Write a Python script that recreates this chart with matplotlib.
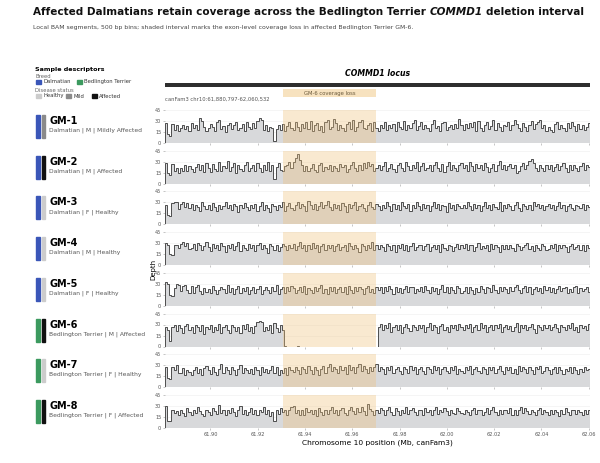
import matplotlib
matplotlib.use("Agg")
import matplotlib.pyplot as plt
from matplotlib.patches import Rectangle
import numpy as np

plt.rcParams["font.family"] = "DejaVu Sans"

# region and deletion interval (Mb, canFam3)
region_start = 61.880797
region_end = 62.060532
loss_start = 61.9307
loss_end = 61.9700
xticks = [61.90, 61.92, 61.94, 61.96, 61.98, 62.00, 62.02, 62.04, 62.06]
yticks = [0, 15, 30, 45]

samples = ["GM-1", "GM-2", "GM-3", "GM-4", "GM-5", "GM-6", "GM-7", "GM-8"]
breeds = ["Dalmatian"] * 5 + ["Bedlington Terrier"] * 3
sexes = ["M", "M", "F", "M", "F", "M", "F", "F"]
status = ["Mildly Affected", "Affected", "Healthy", "Healthy", "Healthy",
          "Affected", "Healthy", "Affected"]

# depth per bin
gm1 = [27, 12, 10, 26, 18, 24, 17, 21, 25, 19, 23, 16, 27, 21, 25, 18, 34, 30, 22, 17,
       20, 26, 22, 17, 28, 31, 19, 23, 15, 24, 27, 19, 25, 29, 18, 21, 26, 17, 28, 22,
       19, 27, 20, 30, 34, 31, 18, 25, 16, 22, 20, 3, 19, 24, 18, 26, 17, 23, 29, 21,
       18, 28, 22, 16, 26, 20, 29, 19, 30, 17, 24, 27, 18, 23, 15, 28, 31, 19, 22, 33,
       27, 18, 25, 20, 16, 26, 29, 19, 31, 17, 22, 28, 32, 21, 19, 24, 27, 16, 29, 20,
       17, 25, 21, 28, 18, 24, 20, 26, 16, 29, 22, 19, 30, 18, 25, 21, 27, 31, 18, 23,
       28, 19, 24, 21, 16, 26, 31, 20, 23, 17, 27, 29, 18, 22, 25, 19, 26, 20, 33, 24,
       18, 26, 20, 27, 22, 29, 17, 30, 21, 16, 25, 28, 19, 23, 31, 18, 27, 22, 16, 25,
       23, 29, 18, 24, 31, 26, 20, 17, 27, 22, 16, 25, 30, 19, 26, 28, 32, 21, 24, 17,
       22, 18, 15, 26, 28, 19, 25, 21, 17, 27, 20, 29, 23, 16, 26, 19, 24, 18, 22, 27]
gm2 = [28, 14, 12, 27, 17, 22, 15, 21, 18, 25, 17, 24, 20, 16, 23, 27, 19, 25, 16, 28,
       22, 16, 27, 20, 18, 29, 17, 24, 21, 31, 18, 23, 28, 15, 25, 20, 17, 26, 30, 18,
       21, 25, 17, 28, 22, 16, 26, 19, 29, 18, 25, 6, 23, 28, 19, 17, 24, 26, 29, 22,
       30, 35, 40, 33, 25, 18, 24, 17, 22, 27, 19, 16, 25, 28, 18, 23, 20, 26, 17, 24,
       21, 17, 27, 23, 25, 16, 20, 26, 30, 22, 17, 25, 19, 28, 21, 29, 24, 27, 18, 22,
       26, 19, 24, 29, 17, 22, 27, 20, 16, 25, 28, 21, 18, 29, 24, 19, 26, 22, 30, 17,
       24, 28, 19, 22, 26, 17, 25, 30, 21, 18, 27, 16, 24, 29, 19, 26, 22, 17, 25, 28,
       21, 26, 18, 29, 24, 17, 27, 22, 25, 19, 28, 23, 16, 22, 27, 18, 25, 31, 20, 26,
       19, 24, 27, 21, 25, 15, 18, 24, 28, 20, 26, 31, 34, 28, 22, 18, 26, 21, 17, 25,
       20, 25, 17, 23, 27, 19, 24, 28, 21, 16, 25, 19, 26, 22, 17, 24, 28, 19, 25, 23]
gm3 = [27, 13, 12, 29, 31, 30, 21, 28, 31, 24, 29, 22, 28, 19, 27, 24, 18, 30, 25, 21,
       26, 20, 29, 24, 18, 27, 21, 25, 30, 22, 26, 19, 28, 25, 17, 27, 23, 29, 24, 19,
       27, 22, 28, 18, 25, 31, 20, 27, 23, 17, 28, 25, 19, 27, 24, 30, 18, 25, 29, 22,
       20, 27, 30, 23, 28, 25, 18, 32, 26, 21, 28, 19, 25, 30, 22, 27, 32, 24, 19, 28,
       23, 27, 19, 29, 25, 17, 28, 22, 26, 31, 20, 25, 28, 22, 18, 27, 30, 24, 21, 28,
       25, 19, 27, 22, 30, 25, 18, 28, 21, 27, 20, 31, 25, 22, 28, 18, 27, 23, 30, 25,
       20, 28, 23, 27, 18, 25, 30, 22, 28, 19, 27, 25, 17, 29, 23, 27, 20, 28, 25, 22,
       27, 22, 30, 25, 19, 28, 23, 27, 18, 25, 31, 22, 27, 20, 28, 24, 21, 30, 18, 27,
       23, 28, 25, 19, 27, 30, 22, 18, 28, 25, 21, 27, 20, 31, 25, 28, 22, 27, 19, 25,
       28, 22, 27, 19, 25, 30, 23, 27, 18, 25, 28, 22, 20, 27, 25, 22, 28, 19, 27, 24]
gm4 = [30, 27, 15, 14, 27, 28, 24, 29, 32, 26, 30, 22, 24, 29, 21, 30, 27, 20, 26, 31,
       25, 19, 29, 24, 28, 21, 30, 26, 18, 28, 23, 29, 20, 26, 31, 19, 28, 24, 21, 29,
       23, 28, 19, 27, 30, 22, 28, 24, 17, 29, 26, 21, 28, 19, 25, 29, 26, 20, 28, 24,
       29, 21, 26, 32, 23, 28, 19, 27, 22, 30, 24, 28, 18, 26, 29, 21, 27, 23, 28, 19,
       26, 29, 21, 25, 28, 19, 30, 26, 22, 28, 24, 18, 29, 26, 21, 28, 23, 31, 20, 27,
       22, 28, 25, 19, 29, 26, 21, 28, 18, 27, 24, 29, 20, 28, 19, 26, 30, 21, 25, 28,
       28, 21, 26, 29, 19, 25, 28, 22, 27, 18, 29, 24, 21, 28, 26, 19, 25, 29, 22, 27,
       24, 29, 21, 27, 28, 19, 25, 30, 22, 26, 24, 28, 19, 29, 22, 27, 25, 18, 28, 22,
       27, 22, 28, 24, 19, 29, 26, 21, 25, 28, 30, 22, 26, 19, 28, 24, 21, 29, 26, 20,
       22, 28, 24, 29, 19, 27, 23, 28, 25, 18, 26, 29, 22, 25, 28, 21, 27, 19, 28, 24]
gm5 = [33, 30, 15, 14, 24, 30, 29, 20, 27, 28, 22, 18, 27, 17, 25, 29, 20, 16, 24, 19,
       23, 17, 27, 22, 16, 21, 26, 23, 18, 28, 19, 24, 16, 23, 27, 17, 24, 20, 26, 16,
       21, 25, 17, 23, 27, 16, 21, 26, 22, 17, 25, 20, 28, 16, 23, 26, 18, 25, 20, 27,
       24, 17, 22, 26, 19, 27, 16, 24, 22, 18, 26, 20, 24, 28, 17, 23, 16, 26, 20, 25,
       18, 23, 26, 19, 25, 16, 27, 22, 18, 25, 20, 26, 23, 16, 24, 27, 19, 23, 17, 26,
       22, 26, 17, 25, 20, 27, 23, 16, 26, 19, 24, 17, 23, 27, 19, 25, 26, 17, 23, 20,
       25, 19, 27, 22, 17, 26, 20, 24, 16, 23, 28, 19, 25, 17, 26, 22, 18, 27, 24, 17,
       20, 25, 17, 26, 22, 16, 24, 19, 27, 23, 17, 26, 24, 19, 28, 22, 17, 25, 20, 26,
       23, 17, 25, 20, 26, 28, 22, 17, 24, 27, 19, 25, 16, 23, 26, 20, 24, 17, 27, 22,
       26, 19, 24, 17, 23, 27, 20, 24, 26, 17, 23, 19, 25, 27, 17, 24, 20, 23, 26, 19]
gm6 = [27, 22, 8, 26, 30, 21, 29, 25, 19, 28, 31, 23, 27, 18, 30, 26, 21, 29, 17, 27,
       24, 30, 20, 27, 22, 31, 18, 26, 29, 23, 19, 30, 27, 21, 26, 18, 29, 24, 31, 21,
       26, 19, 28, 33, 35, 34, 21, 27, 23, 30, 18, 32, 25, 20, 29, 23, 1, 0, 0, 0,
       0, 0, 1, 0, 0, 0, 0, 0, 0, 0, 0, 0, 0, 0, 0, 0, 0, 0, 0, 0,
       0, 0, 0, 0, 0, 0, 0, 0, 0, 0, 0, 0, 0, 0, 0, 0, 0, 0, 0, 0,
       27, 31, 22, 29, 25, 32, 20, 27, 30, 23, 29, 19, 27, 31, 25, 21, 30, 27, 22, 29,
       25, 30, 20, 27, 32, 23, 29, 26, 19, 28, 31, 22, 27, 20, 30, 25, 29, 22, 31, 27,
       23, 29, 25, 31, 20, 27, 30, 22, 32, 25, 29, 20, 27, 30, 23, 29, 25, 31, 20, 27,
       30, 24, 28, 21, 27, 32, 20, 29, 25, 30, 22, 27, 31, 24, 19, 29, 27, 22, 30, 25,
       29, 22, 27, 31, 25, 20, 30, 27, 22, 29, 25, 32, 22, 27, 20, 30, 25, 28, 22, 31]
gm7 = [28, 12, 11, 28, 24, 30, 20, 19, 26, 17, 24, 21, 16, 23, 27, 19, 25, 17, 26, 29,
       23, 18, 27, 21, 17, 25, 31, 20, 27, 23, 18, 28, 24, 17, 25, 30, 19, 26, 23, 20,
       25, 18, 28, 23, 17, 27, 21, 25, 19, 24, 29, 20, 27, 16, 24, 19, 26, 17, 28, 23,
       21, 27, 24, 18, 28, 25, 20, 29, 23, 18, 27, 24, 17, 25, 29, 20, 27, 31, 22, 28,
       25, 19, 29, 23, 27, 18, 30, 24, 28, 20, 27, 32, 22, 29, 25, 19, 28, 22, 27, 31,
       22, 28, 25, 18, 27, 23, 29, 20, 25, 28, 22, 18, 27, 25, 20, 29, 23, 27, 18, 25,
       28, 22, 18, 27, 25, 20, 29, 23, 27, 18, 25, 28, 22, 20, 27, 23, 29, 18, 25, 22,
       20, 27, 23, 29, 18, 25, 28, 22, 20, 27, 25, 18, 28, 23, 27, 20, 25, 29, 22, 18,
       27, 23, 28, 20, 25, 18, 29, 22, 27, 25, 20, 28, 23, 18, 27, 25, 29, 20, 22, 27,
       23, 18, 25, 28, 20, 27, 23, 18, 25, 22, 28, 20, 27, 23, 18, 25, 21, 27, 23, 25]
gm8 = [30, 9, 9, 25, 20, 23, 17, 25, 21, 16, 27, 22, 18, 25, 20, 28, 23, 19, 16, 25,
       22, 17, 27, 23, 19, 31, 21, 25, 17, 24, 20, 27, 22, 16, 25, 30, 19, 24, 17, 22,
       27, 19, 24, 17, 25, 22, 28, 19, 24, 16, 22, 10, 24, 19, 27, 22, 25, 17, 24, 28,
       30, 21, 25, 18, 24, 17, 27, 22, 25, 19, 24, 16, 27, 22, 17, 25, 19, 24, 28, 21,
       25, 18, 24, 27, 21, 17, 25, 29, 23, 19, 27, 22, 28, 23, 18, 32, 26, 23, 18, 25,
       21, 27, 24, 17, 25, 29, 22, 18, 27, 23, 17, 25, 21, 28, 19, 24, 27, 22, 17, 25,
       24, 18, 27, 22, 25, 17, 24, 28, 19, 25, 22, 27, 23, 17, 25, 21, 19, 27, 23, 21,
       19, 25, 22, 17, 24, 27, 19, 24, 25, 17, 22, 27, 19, 24, 28, 22, 17, 25, 19, 24,
       25, 21, 27, 18, 24, 17, 25, 28, 21, 27, 23, 19, 25, 22, 17, 24, 27, 19, 24, 22,
       17, 24, 19, 25, 22, 16, 24, 19, 27, 22, 17, 24, 25, 19, 24, 22, 17, 25, 19, 24]
depths = [gm1, gm2, gm3, gm4, gm5, gm6, gm7, gm8]

BREED_COLORS = {"Dalmatian": "#3a56b8", "Bedlington Terrier": "#3c9a5f"}
STATUS_COLORS = {"Healthy": "#cccccc", "Mildly Affected": "#8a8a8a", "Affected": "#111111"}
FILL = "#d8d9db"
LINE = "#4d4d4d"
LOSS = "#f0c27a"

W, H = 600, 463
fig = plt.figure(figsize=(6, 4.63), dpi=100)
renderer = fig.canvas.get_renderer()


def fx(px):
    return px / W


def fy(py):
    return 1 - py / H


# title block, pieces laid side by side so the gene name can be italic
title_parts = [("Affected Dalmatians retain coverage across the Bedlington Terrier", "normal"),
               ("COMMD1", "italic"),
               ("deletion interval", "normal")]
title_size = 7.5
space_w = (fig.text(0, 0, "a a", fontsize=title_size, fontweight="bold").get_window_extent(renderer).width
           - fig.text(0, 0, "aa", fontsize=title_size, fontweight="bold").get_window_extent(renderer).width)
for t in fig.texts[:]:
    t.remove()
xcur = 33
for part, style in title_parts:
    t = fig.text(fx(xcur), fy(12), part, fontsize=title_size, fontweight="bold", style=style,
                 va="center", ha="left", color="#111111")
    xcur += t.get_window_extent(renderer).width + space_w
fig.text(fx(33), fy(27), "Local BAM segments, 500 bp bins; shaded interval marks the exon-level coverage loss in affected Bedlington Terrier GM-6.",
         fontsize=4.4, va="center", ha="left", color="#444444")

# sample descriptor legend
fig.text(fx(35), fy(69), "Sample descriptors", fontsize=4.6, fontweight="bold", va="center")
fig.text(fx(35), fy(77), "Breed", fontsize=3.8, color="#666666", va="center")
fig.text(fx(35), fy(91), "Disease status", fontsize=3.8, color="#666666", va="center")
legend_rows = [
    (82, [(36, BREED_COLORS["Dalmatian"], "Dalmatian"),
          (77, BREED_COLORS["Bedlington Terrier"], "Bedlington Terrier")]),
    (96, [(36, STATUS_COLORS["Healthy"], "Healthy"),
          (66, STATUS_COLORS["Mildly Affected"], "Mild"),
          (92, STATUS_COLORS["Affected"], "Affected")]),
]
for ypx, items in legend_rows:
    for xpx, col, lab in items:
        fig.add_artist(Rectangle((fx(xpx), fy(ypx + 1.5)), fx(5), 3 / H, color=col,
                                 transform=fig.transFigure))
        fig.text(fx(xpx + 7), fy(ypx), lab, fontsize=3.8, color="#333333", va="center")

# locus header
ax_left, ax_right = 165, 590
fig.text(fx((ax_left + ax_right) / 2), fy(74), "COMMD1 locus", fontsize=5.6,
         fontweight="bold", style="italic", ha="center", va="center")
bar_ax = fig.add_axes([fx(ax_left), fy(87), fx(ax_right - ax_left), 4 / H])
bar_ax.axhspan(0, 1, color="#2e2e2e")
bar_ax.set_xlim(region_start, region_end)
bar_ax.set_ylim(0, 1)
bar_ax.axis("off")

hdr_ax = fig.add_axes([fx(ax_left), fy(102), fx(ax_right - ax_left), 15 / H])
hdr_ax.set_xlim(region_start, region_end)
hdr_ax.set_ylim(0, 1)
hdr_ax.axis("off")
hdr_ax.axvspan(loss_start, loss_end, ymin=0.33, ymax=0.87, color="#f7e2bf", lw=0)
hdr_ax.text((loss_start + loss_end) / 2, 0.6, "GM-6 coverage loss", fontsize=3.8,
            color="#6b5a3c", ha="center", va="center")
hdr_ax.text(region_start, 0.2, "canFam3 chr10:61,880,797-62,060,532", fontsize=3.8,
            color="#555555", ha="left", va="center")

# coverage tracks
track_top, track_step, track_h = 110, 40.7, 33
for i, name in enumerate(samples):
    top = track_top + i * track_step
    ax = fig.add_axes([fx(ax_left), fy(top + track_h), fx(ax_right - ax_left), track_h / H])
    vals = np.array(depths[i], dtype=float)
    edges = np.linspace(region_start, region_end, len(vals) + 1)
    ax.stairs(vals, edges, fill=True, color=FILL, zorder=1)
    ax.stairs(vals, edges, color=LINE, lw=0.7, zorder=2)
    ax.axvspan(loss_start, loss_end, color=LOSS, alpha=0.35, lw=0, zorder=3)
    ax.set_xlim(region_start, region_end)
    ax.set_ylim(0, 45)
    ax.set_yticks(yticks)
    ax.set_xticks(xticks)
    ax.grid(axis="y", color="#eeeeee", lw=0.4, zorder=0)
    ax.set_axisbelow(True)
    for s in ax.spines.values():
        s.set_visible(False)
    ax.tick_params(axis="both", length=1.5, width=0.4, color="#999999",
                   labelsize=3.6, labelcolor="#555555", pad=1.2)
    if i < len(samples) - 1:
        ax.tick_params(axis="x", labelbottom=False)
    else:
        ax.set_xticklabels([f"{t:.2f}" for t in xticks])

    # sample label panel
    cy = top + track_h / 2
    fig.add_artist(Rectangle((fx(36), fy(cy + 11.5)), fx(3.5), 23 / H,
                             color=BREED_COLORS[breeds[i]], transform=fig.transFigure))
    fig.add_artist(Rectangle((fx(41.5), fy(cy + 11.5)), fx(3.5), 23 / H,
                             color=STATUS_COLORS[status[i]], transform=fig.transFigure))
    fig.text(fx(49), fy(cy - 5.5), name, fontsize=7, fontweight="bold", va="center")
    fig.text(fx(49), fy(cy + 4), f"{breeds[i]} | {sexes[i]} | {status[i]}",
             fontsize=4.3, color="#555555", va="center")

fig.text(fx(153), fy((track_top + track_top + 7 * track_step + track_h) / 2), "Depth",
         fontsize=5, rotation=90, ha="center", va="center")
fig.text(fx((ax_left + ax_right) / 2), fy(443), "Chromosome 10 position (Mb, canFam3)",
         fontsize=5.4, ha="center", va="center")

fig.savefig("out.png", dpi=100)
